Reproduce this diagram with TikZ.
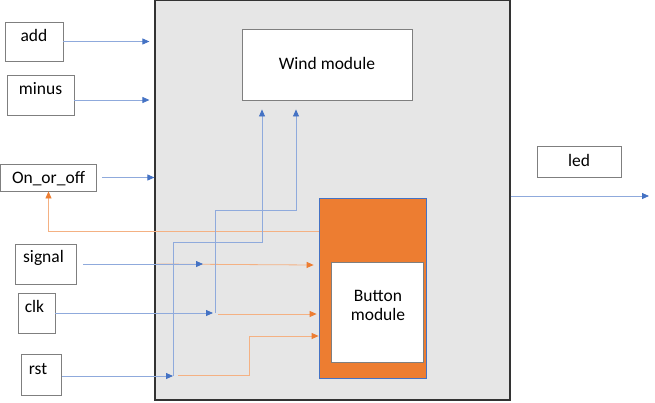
\documentclass[tikz,border=0pt]{standalone}
\usepackage{fontspec}
\setmainfont{Carlito}
\usetikzlibrary{arrows.meta}
\definecolor{bl}{HTML}{4472C4}
\definecolor{bll}{HTML}{8FAADC}
\definecolor{orn}{HTML}{ED7D31}
\definecolor{orl}{HTML}{F4B183}
\definecolor{bgg}{HTML}{E6E6E6}
\definecolor{bd}{HTML}{7F7F7F}
\begin{document}
\begin{tikzpicture}[x=1pt,y=-1pt,
  box/.style={draw=bd, fill=white, line width=0.9pt, inner sep=0pt},
  lbl/.style={anchor=base, inner sep=0pt, font=\fontsize{17.5}{20}\selectfont},
  bline/.style={draw=bll, line width=0.8pt, -{Triangle[length=7pt,width=6pt,color=bl]}},
  oline/.style={draw=orl, line width=0.8pt, -{Triangle[length=7pt,width=6pt,color=orn]}}]
\useasboundingbox (0,0) rectangle (655,402);
% main block
\node[draw=black!80, fill=bgg, line width=1.2pt, minimum width=355pt, minimum height=400pt, inner sep=0pt] (main) at (332.5,200) {};
\node[box, minimum width=170pt, minimum height=71pt] (wind) at (327,64.5) {};
\node[lbl] (windt) at (327,69) {Wind module};
\node[draw=bl, fill=orn, line width=0.8pt, minimum width=107pt, minimum height=180pt, inner sep=0pt] (orange) at (372.5,288) {};
\node[box, minimum width=92pt, minimum height=100pt] (button) at (377,312) {};
\node[lbl] (buttont1) at (378,301.5) {Button};
\node[lbl] (buttont2) at (378,320.5) {module};
% outer boxes
\node[box, minimum width=58pt, minimum height=39pt] (add) at (34,41.5) {};
\node[lbl] (addt) at (34,41.5) {add};
\node[box, minimum width=67pt, minimum height=40pt] (minus) at (40.5,95) {};
\node[lbl] (minust) at (40.5,94) {minus};
\node[box, minimum width=96pt, minimum height=27pt] (onoff) at (48.5,177.5) {};
\node[lbl] (onofft) at (48.5,183) {On\_or\_off};
\node[box, minimum width=61pt, minimum height=40pt] (signal) at (45.5,264) {};
\node[lbl] (signalt) at (43.5,262) {signal};
\node[box, minimum width=37pt, minimum height=40pt] (clk) at (36.5,313) {};
\node[lbl] (clkt) at (34.5,312) {clk};
\node[box, minimum width=40pt, minimum height=41pt] (rst) at (41,374.5) {};
\node[lbl] (rstt) at (38,374) {rst};
\node[box, minimum width=84pt, minimum height=31pt] (led) at (579,161.5) {};
\node[lbl] (ledt) at (579,166.5) {led};
% junction coordinates
\coordinate (sigJ) at (203,264);
\coordinate (clkJ) at (215,313);
\coordinate (rstJ) at (173,376);
\coordinate (w1) at (262,242);
\coordinate (w2) at (296,210);
\coordinate (fb) at (319,231);
\coordinate (ledOut) at (649,196);
\coordinate (rstB) at (249,336);
% inputs
\draw[bline] (add.east) -- ([xshift=-5pt]main.west |- add.east);
\draw[bline] ([yshift=-5pt]minus.east) -- ([xshift=-5pt,yshift=-5pt]main.west |- minus.east);
\draw[bline] ([xshift=5pt]onoff.east) -- (main.west |- onoff.east);
\draw[bline] (main.east |- ledOut) -- (ledOut);
% feedback
\draw[oline] (orange.west |- fb) -| (onoff.south);
% signal
\draw[oline] ([xshift=2pt]main.west |- sigJ) -- ([xshift=-5pt,yshift=-1pt]orange.west |- sigJ);
\draw[bline] ([xshift=7pt]signal.east |- sigJ) -- (sigJ);
% clk
\draw[bline] (clk.east |- clkJ) -- ([xshift=-2pt]clkJ);
\draw[oline] ([xshift=3pt,yshift=-1pt]clkJ) -- ([xshift=-2pt,yshift=-1pt]orange.west |- clkJ);
% rst
\draw[bline] ([xshift=1pt]rst.east |- rstJ) -- (rstJ);
\draw[oline] ([xshift=5pt,yshift=1pt]rstJ) -| (rstB) -- (orange.west |- rstB);
% wind inputs
\draw[bline] (rstJ) |- (w1) -- ([yshift=-9pt]wind.south -| w1);
\draw[bline] (clkJ) |- (w2) -- ([yshift=-9pt]wind.south -| w2);
\end{tikzpicture}
\end{document}
